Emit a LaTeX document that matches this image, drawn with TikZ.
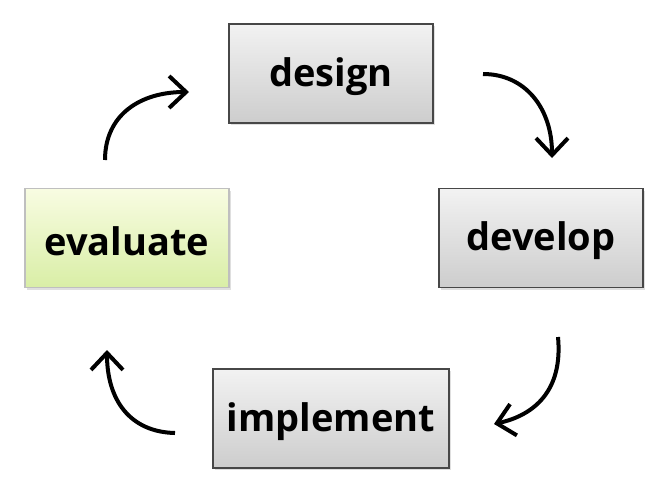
\documentclass[tikz,border=0pt]{standalone}
\usepackage{fontspec}
\setmainfont{Open Sans}
\usetikzlibrary{arrows.meta,shadows}
\definecolor{gtop}{HTML}{F2F2F2}
\definecolor{gbot}{HTML}{CDCDCD}
\definecolor{ltop}{HTML}{F8FCE2}
\definecolor{lbot}{HTML}{D9EEA6}
\begin{document}
\begin{tikzpicture}[x=1pt,y=-1pt,
  box/.style={draw=black!72, line width=1.2pt, minimum width=204pt, minimum height=99pt,
    inner sep=0pt, font=\bfseries\fontsize{38}{42}\selectfont,
    top color=gtop, bottom color=gbot,
    drop shadow={opacity=0.25, shadow xshift=2pt, shadow yshift=-2pt}},
  greenbox/.style={box, draw=black!25, top color=ltop, bottom color=lbot},
  lbl/.style={font=\bfseries\fontsize{38}{42}\selectfont, yshift=-3pt},
  cyc/.style={line width=4pt, -{Straight Barb[length=17pt,width=32pt]}}]
\useasboundingbox (0,0) rectangle (668,501);
\node[box] (design) at (331,73.5) {};
\node[box] (develop) at (541,238) {};
\node[greenbox] (evaluate) at (127,238) {};
\node[box, minimum width=236pt] (implement) at (331,418.5) {};
\node[lbl] (tdesign) at (design) {design};
\node[lbl] (tdevelop) at (develop) {develop};
\node[lbl] (tevaluate) at (evaluate) {evaluate};
\node[lbl] (timplement) at (implement) {implement};
% arrow end points
\coordinate (a1s) at (105,160); \coordinate (a1e) at (189,92);
\coordinate (a2s) at (483,74);  \coordinate (a2e) at (552,158);
\coordinate (a3s) at (558,337); \coordinate (a3e) at (494,424);
\coordinate (a4s) at (175,433); \coordinate (a4e) at (107,350);
\draw[cyc] (a1s) .. controls (105,115) and (140,92) .. (a1e);
\draw[cyc] (a2s) .. controls (525,74) and (552,108) .. (a2e);
\draw[cyc] (a3s) .. controls (563,390) and (535,415) .. (a3e);
\draw[cyc] (a4s) .. controls (130,432) and (107,400) .. (a4e);
\end{tikzpicture}
\end{document}
